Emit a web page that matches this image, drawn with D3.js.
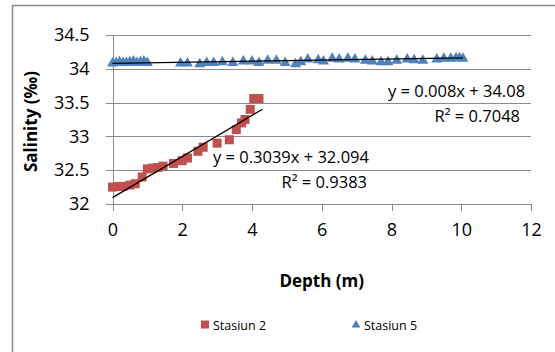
<!DOCTYPE html>
<html lang="en">
<head>
  <meta charset="UTF-8">
  <title>Salinity vs Depth</title>
  <script src="https://d3js.org/d3.v7.min.js"></script>
  <style>
    body { margin: 0; background: #fff; }
    svg { font-family: "Open Sans", sans-serif; }
    .grid line { stroke: #8c8c8c; stroke-width: 1px; shape-rendering: crispEdges; }
    .axis path, .axis line { stroke: #8c8c8c; shape-rendering: crispEdges; }
    .axis text { font-size: 18px; fill: #000; }
  </style>
</head>
<body>
  <script>
    // Stasiun 2
    const depth2 = [0, 0.15, 0.3, 0.5, 0.65, 0.85, 1.0, 1.15, 1.3, 1.45, 1.75, 2.0, 2.15, 2.45, 2.6, 3.0, 3.35, 3.55, 3.7, 3.8, 3.95, 4.05, 4.2];
    const sal2 = [32.25, 32.26, 32.26, 32.28, 32.3, 32.4, 32.52, 32.53, 32.54, 32.56, 32.6, 32.64, 32.68, 32.78, 32.84, 32.9, 32.95, 33.1, 33.2, 33.25, 33.4, 33.56, 33.56];

    // Stasiun 5
    const depth5 = [0, 0.1, 0.2, 0.3, 0.4, 0.5, 0.6, 0.7, 0.8, 0.9, 1.0, 1.95, 2.15, 2.5, 2.7, 2.9, 3.15, 3.45, 3.75, 4.0, 4.2, 4.45, 4.7, 4.95, 5.25, 5.4, 5.6, 5.9, 6.05, 6.3, 6.5, 6.75, 6.95, 7.25, 7.45, 7.7, 7.9, 8.15, 8.45, 8.65, 8.9, 9.3, 9.5, 9.7, 9.85, 9.95, 10.05];
    const sal5 = [34.08, 34.09, 34.1, 34.09, 34.09, 34.1, 34.11, 34.09, 34.1, 34.11, 34.09, 34.08, 34.08, 34.07, 34.09, 34.09, 34.1, 34.09, 34.11, 34.11, 34.09, 34.12, 34.12, 34.09, 34.07, 34.1, 34.14, 34.13, 34.11, 34.15, 34.14, 34.15, 34.14, 34.12, 34.11, 34.1, 34.1, 34.12, 34.14, 34.13, 34.12, 34.14, 34.15, 34.15, 34.16, 34.16, 34.15];

    // trendlines (from the labels)
    const seriesNames = ["Stasiun 2", "Stasiun 5"];
    const slopes = [0.3039, 0.008];
    const intercepts = [32.094, 34.08];
    const eqLabels = ["y = 0.3039x + 32.094", "y = 0.008x + 34.08"];
    const r2Labels = ["R\u00b2 = 0.9383", "R\u00b2 = 0.7048"];

    const xTicks = [0, 2, 4, 6, 8, 10, 12];
    const yTicks = [32, 32.5, 33, 33.5, 34, 34.5];

    const width = 555, height = 352;
    const margin = {top: 35, right: 24, bottom: 148, left: 112.5};

    const svg = d3.select("body").append("svg")
      .attr("width", width).attr("height", height);

    // outer chart frame (runs off the right and bottom edges)
    svg.append("rect")
      .attr("x", 12.5).attr("y", 5.5)
      .attr("width", 560).attr("height", 360)
      .attr("fill", "none").attr("stroke", "#8c8c8c").attr("stroke-width", 1.5);

    const x = d3.scaleLinear().domain([0, 12]).range([margin.left, width - margin.right]);
    const y = d3.scaleLinear().domain([32, 34.5]).range([height - margin.bottom, margin.top]);

    // horizontal gridlines
    svg.append("g").attr("class", "grid")
      .selectAll("line")
      .data(yTicks.slice(1))
      .join("line")
      .attr("x1", x(0) - 7).attr("x2", x(12))
      .attr("y1", d => Math.round(y(d)) + 0.5).attr("y2", d => Math.round(y(d)) + 0.5);

    // axes
    const xAxis = svg.append("g").attr("class", "axis")
      .attr("transform", `translate(0, ${y(32)})`)
      .call(d3.axisBottom(x).tickValues(xTicks).tickSize(7).tickSizeOuter(0).tickPadding(12));
    xAxis.select(".domain").attr("d", `M${x(0) - 7},0.5H${x(12)}`);

    svg.append("g").attr("class", "axis")
      .attr("transform", `translate(${x(0)}, 0)`)
      .call(d3.axisLeft(y).tickValues(yTicks).tickSize(7).tickSizeOuter(0).tickPadding(16)
        .tickFormat(d => d));

    svg.selectAll(".axis text").attr("font-family", "Open Sans");

    // axis titles
    svg.append("text")
      .attr("x", x(6)).attr("y", 287)
      .attr("text-anchor", "middle")
      .attr("font-size", 17).attr("font-weight", "bold")
      .text("Depth (m)");

    svg.append("text")
      .attr("transform", `translate(37, ${(y(32) + y(34.5)) / 2 + 2}) rotate(-90)`)
      .attr("text-anchor", "middle")
      .attr("font-size", 17).attr("font-weight", "bold")
      .text("Salinity (\u2030)");

    // points
    const pts2 = depth2.map((d, i) => ({x: d, y: sal2[i]}));
    const pts5 = depth5.map((d, i) => ({x: d, y: sal5[i]}));

    svg.append("g").selectAll("path")
      .data(pts5)
      .join("path")
      .attr("d", d3.symbol().type(d3.symbolTriangle).size(52))
      .attr("transform", d => `translate(${x(d.x)}, ${y(d.y)})`)
      .attr("fill", "#4f81bd");

    svg.append("g").selectAll("rect")
      .data(pts2)
      .join("rect")
      .attr("x", d => x(d.x) - 4.5).attr("y", d => y(d.y) - 4.5)
      .attr("width", 9).attr("height", 9)
      .attr("fill", "#c0504d");

    // trendlines
    const allDepths = [depth2, depth5];
    allDepths.forEach((ds, i) => {
      const [lo, hi] = d3.extent(ds);
      const hiX = i === 0 ? hi + 0.1 : hi;
      svg.append("line")
        .attr("x1", x(lo)).attr("y1", y(slopes[i] * lo + intercepts[i]))
        .attr("x2", x(hiX)).attr("y2", y(slopes[i] * hiX + intercepts[i]))
        .attr("stroke", "#000").attr("stroke-width", 1.3);
    });

    // trendline labels
    const eqPos = [{x: 213, y: 163, rx: 367, ry: 188}, {x: 388, y: 97, rx: 520, ry: 122}];
    eqPos.forEach((p, i) => {
      svg.append("text").attr("x", p.x).attr("y", p.y)
        .attr("font-size", 16.5).text(eqLabels[i]);
      svg.append("text").attr("x", p.rx).attr("y", p.ry)
        .attr("text-anchor", "end")
        .attr("font-size", 16.5).text(r2Labels[i]);
    });

    // legend
    const legend = svg.append("g").attr("transform", "translate(0, 325)");
    legend.append("rect")
      .attr("x", 201).attr("y", -4.5).attr("width", 8).attr("height", 8)
      .attr("fill", "#c0504d");
    legend.append("text").attr("x", 213).attr("y", 5)
      .attr("font-size", 12.5).text(seriesNames[0]);
    legend.append("path")
      .attr("d", d3.symbol().type(d3.symbolTriangle).size(34))
      .attr("transform", "translate(356, 0)")
      .attr("fill", "#4f81bd");
    legend.append("text").attr("x", 364).attr("y", 5)
      .attr("font-size", 12.5).text(seriesNames[1]);
  </script>
</body>
</html>
